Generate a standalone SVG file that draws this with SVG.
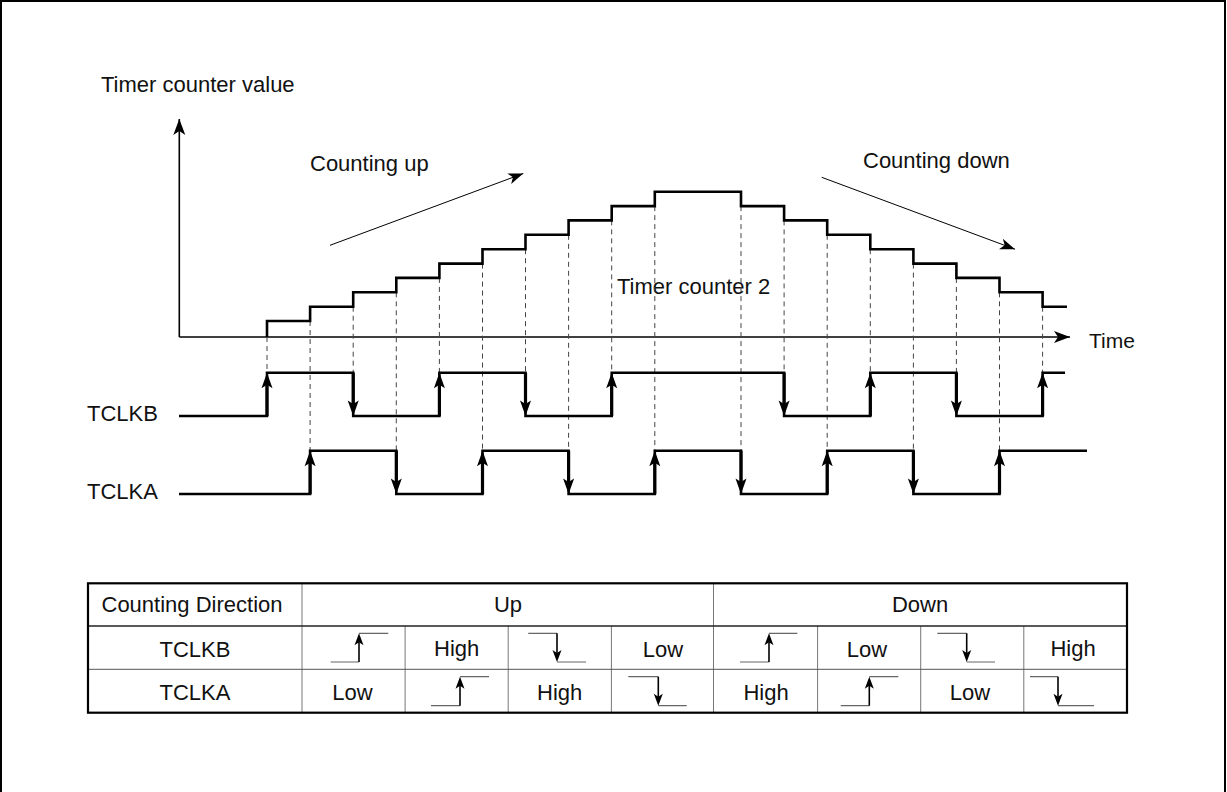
<svg xmlns="http://www.w3.org/2000/svg" xmlns:xlink="http://www.w3.org/1999/xlink" width="1227" height="792" viewBox="0 0 1227 792">
<style>
text{font-family:"Liberation Sans",Arial,sans-serif;fill:#111}
.lbl{font-size:22px}
.tb{font-size:22px;text-anchor:middle}
.wave{fill:none;stroke:#000;stroke-width:2.6;stroke-linejoin:miter}
.edge{stroke:#000;stroke-width:3.2}
.dash{stroke:#444;stroke-width:1;stroke-dasharray:5 4}
.axis{stroke:#000;stroke-width:1.6;fill:none}
.thin{stroke:#000;stroke-width:1;fill:none}
.grid{stroke:#777;stroke-width:1}
.ih{stroke:#666;stroke-width:1.2;fill:none}
.iv{stroke:#000;stroke-width:1.6}
</style>
<defs>
<marker id="axA" markerUnits="userSpaceOnUse" markerWidth="20" markerHeight="16" viewBox="-17 -8 18 16" refX="0" refY="0" orient="auto"><path d="M0,0 L-16,-6 L-12,0 L-16,6 Z" fill="#000"/></marker>
<marker id="cA" markerUnits="userSpaceOnUse" markerWidth="18" markerHeight="14" viewBox="-16 -7 17 14" refX="0" refY="0" orient="auto"><path d="M0,0 L-15,-5.5 L-11,0 L-15,5.5 Z" fill="#000"/></marker>
<path id="up" d="M0,0 L-5.5,15.5 L0,12 L5.5,15.5 Z" fill="#000"/>
<path id="dn" d="M0,0 L-5.5,-15.5 L0,-12 L5.5,-15.5 Z" fill="#000"/>
<path id="sup" d="M0,0 L-4.5,12 L0,9 L4.5,12 Z" fill="#000"/>
<path id="sdn" d="M0,0 L-4.5,-12 L0,-9 L4.5,-12 Z" fill="#000"/>
</defs>
<rect width="1227" height="792" fill="#fff"/>
<path d="M1,792 V1 H1225 V792" fill="none" stroke="#000" stroke-width="2"/>

<g id="labels">
<text class="lbl" x="101" y="92">Timer counter value</text>
<text class="lbl" x="310" y="171">Counting up</text>
<text class="lbl" x="863" y="168">Counting down</text>
<text class="lbl" x="617" y="294">Timer counter 2</text>
<text class="lbl" x="1089" y="348" style="font-size:21px">Time</text>
<text class="lbl" x="87" y="421">TCLKB</text>
<text class="lbl" x="87" y="499">TCLKA</text>
</g>

<g id="connectors">
<line class="axis" x1="179.3" y1="337" x2="179.3" y2="119" marker-end="url(#axA)"/>
<line class="axis" x1="179.3" y1="337" x2="1070" y2="337" marker-end="url(#axA)"/>
<line class="thin" x1="330" y1="245.3" x2="523.3" y2="173.5" marker-end="url(#cA)"/>
<line class="thin" x1="821.7" y1="177.3" x2="1015" y2="249.2" marker-end="url(#cA)"/>
<g id="dashes">
<line class="dash" x1="267" y1="337" x2="267" y2="372.7"/>
<line class="dash" x1="310.1" y1="321" x2="310.1" y2="450.7"/>
<line class="dash" x1="353.2" y1="306.7" x2="353.2" y2="372.7"/>
<line class="dash" x1="396.3" y1="292.3" x2="396.3" y2="450.7"/>
<line class="dash" x1="439.4" y1="277.9" x2="439.4" y2="372.7"/>
<line class="dash" x1="482.5" y1="263.6" x2="482.5" y2="450.7"/>
<line class="dash" x1="525.5" y1="249.2" x2="525.5" y2="372.7"/>
<line class="dash" x1="568.6" y1="234.8" x2="568.6" y2="450.7"/>
<line class="dash" x1="611.7" y1="220.4" x2="611.7" y2="372.7"/>
<line class="dash" x1="654.8" y1="206.1" x2="654.8" y2="450.7"/>
<line class="dash" x1="741" y1="206.1" x2="741" y2="450.7"/>
<line class="dash" x1="784.1" y1="220.4" x2="784.1" y2="372.7"/>
<line class="dash" x1="827.2" y1="234.8" x2="827.2" y2="450.7"/>
<line class="dash" x1="870.3" y1="249.2" x2="870.3" y2="372.7"/>
<line class="dash" x1="913.4" y1="263.6" x2="913.4" y2="450.7"/>
<line class="dash" x1="956.4" y1="277.9" x2="956.4" y2="372.7"/>
<line class="dash" x1="999.5" y1="292.3" x2="999.5" y2="450.7"/>
<line class="dash" x1="1042.6" y1="306.7" x2="1042.6" y2="372.7"/>
</g>
</g>

<g id="counter">
<path class="wave" d="M267,337 V321 H310.1 V306.7 H353.2 V292.3 H396.3 V277.9 H439.4 V263.6 H482.5 V249.2 H525.5 V234.8 H568.6 V220.4 H611.7 V206.1 H654.8 V191.7 H741 V206.1 H784.1 V220.4 H827.2 V234.8 H870.3 V249.2 H913.4 V263.6 H956.4 V277.9 H999.5 V292.3 H1042.6 V306.7 H1067"/>
</g>

<g id="tclkb">
<polyline class="wave" points="179,416 267,416 267,372.7 353.2,372.7 353.2,416 439.4,416 439.4,372.7 525.5,372.7 525.5,416 611.7,416 611.7,372.7 784.1,372.7 784.1,416 870.3,416 870.3,372.7 956.4,372.7 956.4,416 1042.6,416 1042.6,372.7 1065,372.7"/>
<g class="edge">
<line x1="267" y1="416" x2="267" y2="380"/><line x1="439.4" y1="416" x2="439.4" y2="380"/><line x1="611.7" y1="416" x2="611.7" y2="380"/><line x1="870.3" y1="416" x2="870.3" y2="380"/><line x1="1042.6" y1="416" x2="1042.6" y2="380"/>
<line x1="353.2" y1="372.7" x2="353.2" y2="408"/><line x1="525.5" y1="372.7" x2="525.5" y2="408"/><line x1="784.1" y1="372.7" x2="784.1" y2="408"/><line x1="956.4" y1="372.7" x2="956.4" y2="408"/>
</g>
<use xlink:href="#up" x="267" y="372.7"/><use xlink:href="#up" x="439.4" y="372.7"/><use xlink:href="#up" x="611.7" y="372.7"/><use xlink:href="#up" x="870.3" y="372.7"/><use xlink:href="#up" x="1042.6" y="372.7"/>
<use xlink:href="#dn" x="353.2" y="416"/><use xlink:href="#dn" x="525.5" y="416"/><use xlink:href="#dn" x="784.1" y="416"/><use xlink:href="#dn" x="956.4" y="416"/>
</g>

<g id="tclka">
<polyline class="wave" points="179,494 310.1,494 310.1,450.7 396.3,450.7 396.3,494 482.5,494 482.5,450.7 568.6,450.7 568.6,494 654.8,494 654.8,450.7 741,450.7 741,494 827.2,494 827.2,450.7 913.4,450.7 913.4,494 999.5,494 999.5,450.7 1087,450.7"/>
<g class="edge">
<line x1="310.1" y1="494" x2="310.1" y2="458"/><line x1="482.5" y1="494" x2="482.5" y2="458"/><line x1="654.8" y1="494" x2="654.8" y2="458"/><line x1="827.2" y1="494" x2="827.2" y2="458"/><line x1="999.5" y1="494" x2="999.5" y2="458"/>
<line x1="396.3" y1="450.7" x2="396.3" y2="486"/><line x1="568.6" y1="450.7" x2="568.6" y2="486"/><line x1="741" y1="450.7" x2="741" y2="486"/><line x1="913.4" y1="450.7" x2="913.4" y2="486"/>
</g>
<use xlink:href="#up" x="310.1" y="450.7"/><use xlink:href="#up" x="482.5" y="450.7"/><use xlink:href="#up" x="654.8" y="450.7"/><use xlink:href="#up" x="827.2" y="450.7"/><use xlink:href="#up" x="999.5" y="450.7"/>
<use xlink:href="#dn" x="396.3" y="494"/><use xlink:href="#dn" x="568.6" y="494"/><use xlink:href="#dn" x="741" y="494"/><use xlink:href="#dn" x="913.4" y="494"/>
</g>

<g id="table">
<g class="grid">
<line x1="302" y1="583.3" x2="302" y2="712.7"/>
<line x1="713.5" y1="583.3" x2="713.5" y2="712.7"/>
<line x1="405.1" y1="626" x2="405.1" y2="712.7"/>
<line x1="508.2" y1="626" x2="508.2" y2="712.7"/>
<line x1="611.4" y1="626" x2="611.4" y2="712.7"/>
<line x1="817.6" y1="626" x2="817.6" y2="712.7"/>
<line x1="920.7" y1="626" x2="920.7" y2="712.7"/>
<line x1="1023.8" y1="626" x2="1023.8" y2="712.7"/>
<line x1="88" y1="669.3" x2="1127" y2="669.3" stroke="#555"/>
</g>
<line x1="88" y1="626" x2="1127" y2="626" stroke="#222" stroke-width="1.5"/>
<rect x="88" y="583.3" width="1039" height="129.4" fill="none" stroke="#000" stroke-width="2.2"/>
<text class="tb" x="192" y="612">Counting Direction</text>
<text class="tb" x="508" y="612">Up</text>
<text class="tb" x="920" y="612">Down</text>
<text class="tb" x="195" y="657">TCLKB</text>
<text class="tb" x="456.7" y="656">High</text>
<text class="tb" x="663" y="657">Low</text>
<text class="tb" x="867" y="657">Low</text>
<text class="tb" x="1073" y="656">High</text>
<text class="tb" x="195" y="700">TCLKA</text>
<text class="tb" x="352.5" y="700">Low</text>
<text class="tb" x="559.7" y="700">High</text>
<text class="tb" x="766" y="700">High</text>
<text class="tb" x="970" y="700">Low</text>
<g id="icons">
<path class="ih" d="M330.7,662 H359 M359,633.3 H388.3"/><line class="iv" x1="359" y1="662" x2="359" y2="640"/><use xlink:href="#sup" x="359" y="633.3"/>
<path class="ih" d="M528.3,633.3 H557 M557,662 H586"/><line class="iv" x1="557" y1="633.3" x2="557" y2="655"/><use xlink:href="#sdn" x="557" y="662"/>
<path class="ih" d="M740,662 H769 M769,633.3 H797.3"/><line class="iv" x1="769" y1="662" x2="769" y2="640"/><use xlink:href="#sup" x="769" y="633.3"/>
<path class="ih" d="M937.3,633.3 H966.7 M966.7,662 H995"/><line class="iv" x1="966.7" y1="633.3" x2="966.7" y2="655"/><use xlink:href="#sdn" x="966.7" y="662"/>
<path class="ih" d="M431,705.7 H460 M460,676.7 H489"/><line class="iv" x1="460" y1="705.7" x2="460" y2="683"/><use xlink:href="#sup" x="460" y="676.7"/>
<path class="ih" d="M628.3,676.7 H658.3 M658.3,705.7 H686.7"/><line class="iv" x1="658.3" y1="676.7" x2="658.3" y2="699"/><use xlink:href="#sdn" x="658.3" y="705.7"/>
<path class="ih" d="M840.7,705.7 H869.3 M869.3,676.7 H898.3"/><line class="iv" x1="869.3" y1="705.7" x2="869.3" y2="683"/><use xlink:href="#sup" x="869.3" y="676.7"/>
<path class="ih" d="M1030,676.7 H1058 M1058,705.7 H1094"/><line class="iv" x1="1058" y1="676.7" x2="1058" y2="699"/><use xlink:href="#sdn" x="1058" y="705.7"/>
</g>
</g>
</svg>
